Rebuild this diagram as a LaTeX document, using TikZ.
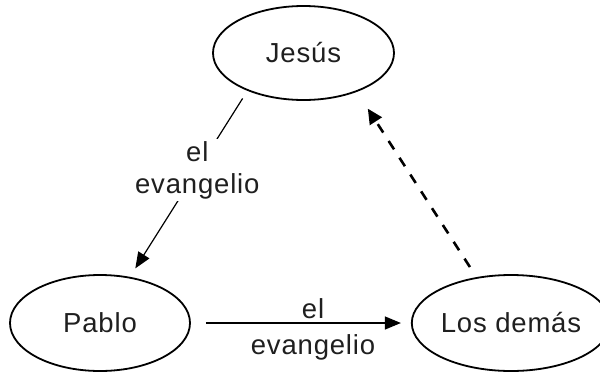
\documentclass[tikz,border=0pt]{standalone}
\usepackage{fontspec}
\setmainfont[LetterSpace=3]{Liberation Sans}
\usetikzlibrary{shapes.geometric,arrows.meta}
\begin{document}
\begin{tikzpicture}[x=1pt,y=-1pt,
  every node/.style={font=\fontsize{27.5}{32}\selectfont, text=black!88},
  ell/.style={ellipse, draw, line width=1.8pt, inner sep=0pt},
  arr/.style={line width=1.2pt, -{Triangle[length=16pt,width=13pt]}},
  darr/.style={line width=2.6pt, dash pattern=on 10pt off 10pt, -{Triangle[length=15pt,width=14pt]}},
  lbl/.style={align=center, inner sep=2pt}]
\useasboundingbox (0,0) rectangle (600,373);
\node[ell, minimum width=181pt, minimum height=94pt] (jesus) at (303.5,53) {Jesús};
\node[ell, minimum width=180pt, minimum height=96pt] (pablo) at (100,323) {Pablo};
\node[ell, minimum width=176pt, minimum height=96pt] (demas) at (511,323) {Los demás};
\draw[arr, shorten <=9pt, shorten >=10pt] (jesus.214.4) -- (pablo.57.6)
  node[lbl, fill=white, pos=0.427, font=\fontsize{27.5}{32}\selectfont] {el\\evangelio};
\draw[arr, shorten <=15pt, shorten >=10pt] (pablo.east) -- (demas.west);
\node[lbl, font=\fontsize{27.5}{36}\selectfont] (lab2) at (313,329) {el\\evangelio};
\draw[darr, shorten <=12pt, shorten >=20pt] (demas.127.5) -- (jesus.-36.5);
\end{tikzpicture}
\end{document}
